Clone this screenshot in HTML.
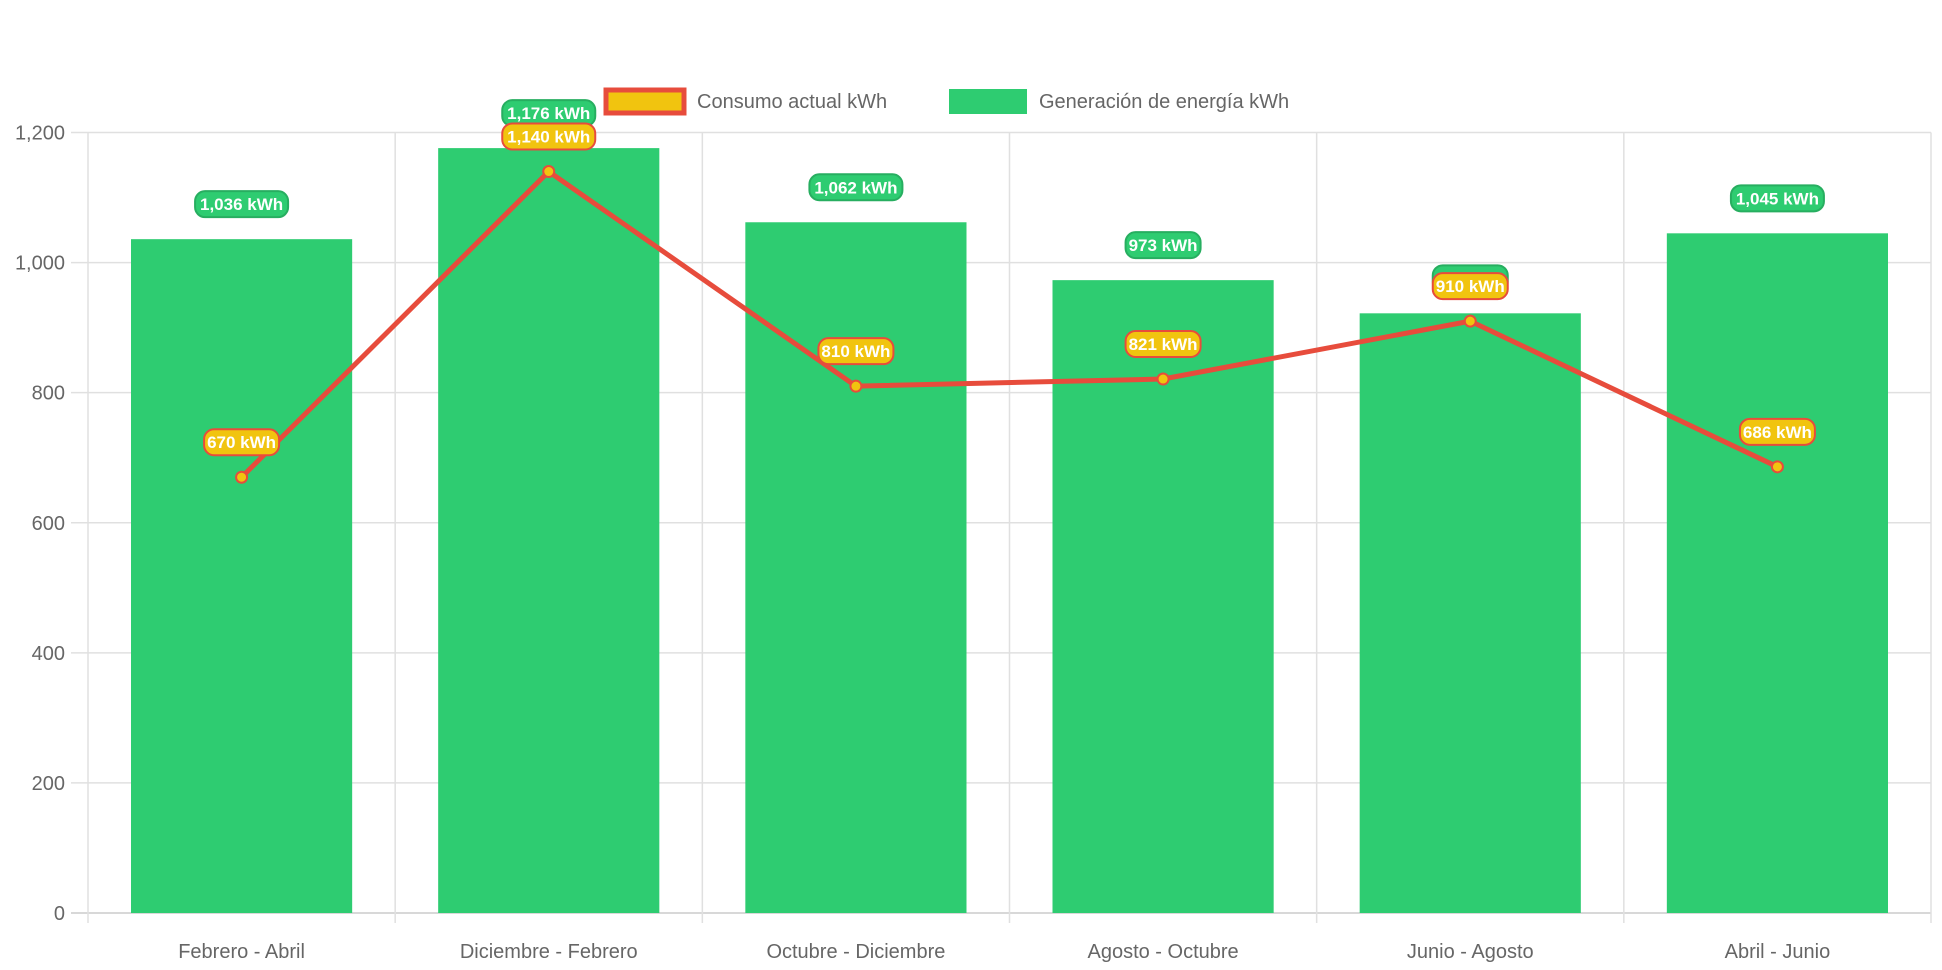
<!DOCTYPE html>
<html><head><meta charset="utf-8"><style>
html,body{margin:0;padding:0;background:#fff;}
svg{display:block;font-family:"Liberation Sans",Arial,sans-serif;}
</style></head><body>
<svg id="chart" width="1942" height="970"></svg>
<script>
const categories=["Febrero - Abril","Diciembre - Febrero","Octubre - Diciembre","Agosto - Octubre","Junio - Agosto","Abril - Junio"];
const generation=[1036,1176,1062,973,922,1045];
const consumption=[670,1140,810,821,910,686];
const yTicks=[0,200,400,600,800,1000,1200];
const NS="http://www.w3.org/2000/svg";
const svg=document.getElementById('chart');
const L=88,R=1931,T=132.5,B=913,YMAX=1200;
const bw=(R-L)/categories.length;
function x(i){return L+bw*(i+0.5);}
function y(v){return B-(v/YMAX)*(B-T);}
function el(t,a,p){const e=document.createElementNS(NS,t);for(const k in a)e.setAttribute(k,a[k]);(p||svg).appendChild(e);return e;}
function fmt(v){return v.toLocaleString('en-US')+' kWh';}
// grid
yTicks.forEach(v=>{
  const g=el('line',{x1:71,x2:R,y1:y(v),y2:y(v),stroke:v===0?'#ccc':'#e0e0e0','stroke-width':1.5});
  
  
  const t=el('text',{x:65,y:y(v)+7,'text-anchor':'end','font-size':20,fill:'#666'});
  t.textContent=v.toLocaleString('en-US');
  
  
});
for(let i=0;i<=categories.length;i++){
  const g=el('line',{x1:L+bw*i,x2:L+bw*i,y1:T,y2:923,stroke:'#e0e0e0','stroke-width':1.5});
  
  
}
// bars
generation.forEach((v,i)=>{
  const w=bw*0.72;
  const r=el('rect',{x:x(i)-w/2,y:y(v),width:w,height:B-y(v),fill:'#2ecc71'});
  
  
});
// x labels
categories.forEach((c,i)=>{
  const t=el('text',{x:x(i),y:958,'text-anchor':'middle','font-size':20,fill:'#666'});
  t.textContent=c;
  
  
});
// line
const pl=el('polyline',{points:consumption.map((v,i)=>x(i)+','+y(v)).join(' '),fill:'none',stroke:'#e74c3c','stroke-width':5,'stroke-linejoin':'round'});


consumption.forEach((v,i)=>{
  const c=el('circle',{cx:x(i),cy:y(v),r:5.5,fill:'#f1c40f',stroke:'#e74c3c','stroke-width':2});
  
  
});
function badge(cx,cy,txt,fill,stroke,name){
  const w=txt.length*9+12,h=26;
  const g=el('g',{});
  
  
  el('rect',{x:cx-w/2,y:cy-h/2,width:w,height:h,rx:10,fill:fill,stroke:stroke,'stroke-width':2},g);
  const t=el('text',{x:cx,y:cy+6,'text-anchor':'middle','font-size':17,'font-weight':'bold',fill:'#fff'},g);
  t.textContent=txt;
}
generation.forEach((v,i)=>badge(x(i),y(v)-35,fmt(v),'#2ecc71','#27ae60','generation-value-label'));
consumption.forEach((v,i)=>badge(x(i),y(v)-35,fmt(v),'#f1c40f','#e74c3c','consumption-value-label'));
// legend
const lg1=el('g',{});


el('rect',{x:606,y:90,width:78,height:23,fill:'#f1c40f',stroke:'#e74c3c','stroke-width':5},lg1);
const t1=el('text',{x:697,y:108,'font-size':20,fill:'#666'},lg1);t1.textContent='Consumo actual kWh';
const lg2=el('g',{});


el('rect',{x:949,y:89,width:78,height:25,fill:'#2ecc71'},lg2);
const t2=el('text',{x:1039,y:108,'font-size':20,fill:'#666'},lg2);t2.textContent='Generación de energía kWh';
</script>
</body></html>
